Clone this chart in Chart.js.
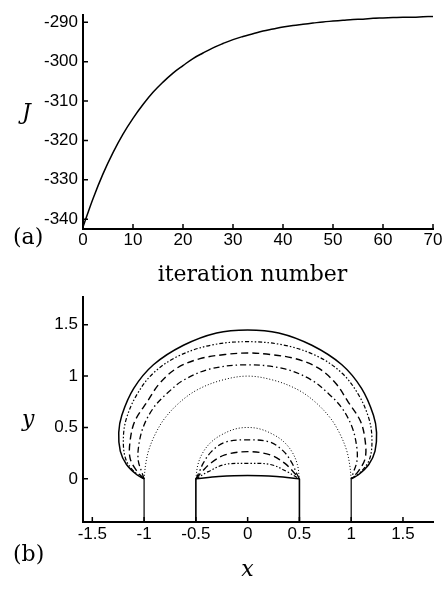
<!DOCTYPE html>
<html>
<head>
<meta charset="utf-8">
<script src="https://cdn.jsdelivr.net/npm/chart.js@4"></script>
<style>
  body { margin: 0; background: #fff; }
  #wrap { position: relative; width: 445px; height: 591px; overflow: hidden; }
  canvas { position: absolute; left: 0; }
  .lbl { position: absolute; font-family: 'DejaVu Serif', serif; font-size: 22px; line-height: 22px; color: #000; white-space: nowrap; }
  .it { font-style: italic; }
</style>
</head>
<body>
<div id="wrap">
  <canvas id="costChart" width="445" height="260" style="top:0"></canvas>
  <canvas id="shapeChart" width="445" height="270" style="top:280px"></canvas>
  <div class="lbl it" style="left:22px;top:101px">J</div>
  <div class="lbl" style="left:13px;top:226px">(a)</div>
  <div class="lbl" style="left:0;width:505px;text-align:center;top:263px">iteration number</div>
  <div class="lbl it" style="left:22px;top:408px">y</div>
  <div class="lbl" style="left:13px;top:543px">(b)</div>
  <div class="lbl it" style="left:0;width:495px;text-align:center;top:558px">x</div>
</div>
<script>
// (a) cost functional vs. iteration
const iterations = [0, 2, 4, 6, 8, 10, 12, 14, 16, 18, 20, 22, 24, 26, 28, 30, 32, 34,
  36, 38, 40, 42, 44, 46, 48, 50, 52, 54, 56, 58, 60, 62, 64, 66, 68, 70];
const costJ = [-342.0, -334.8, -328.5, -323.1, -318.4, -314.4, -310.9, -307.8, -305.2,
  -302.9, -301.0, -299.2, -297.8, -296.5, -295.4, -294.4, -293.6, -292.9, -292.2,
  -291.7, -291.2, -290.8, -290.5, -290.2, -289.9, -289.7, -289.5, -289.3, -289.2,
  -289.0, -288.9, -288.8, -288.7, -288.7, -288.6, -288.5];
const iterTicks = [0, 10, 20, 30, 40, 50, 60, 70];
const costTicks = [-340, -330, -320, -310, -300, -290];

// (b) free surface shapes, outer and inner bubbles: initial, iterations 1-3, final
const outerInitial = [[-1, 0], [-0.985, 0.14], [-0.955, 0.28], [-0.89, 0.44], [-0.80, 0.59],
  [-0.65, 0.75], [-0.48, 0.87], [-0.25, 0.96], [0, 1.0], [0.25, 0.96], [0.48, 0.87],
  [0.65, 0.75], [0.80, 0.59], [0.89, 0.44], [0.955, 0.28], [0.985, 0.14], [1, 0]];
const outerIter1 = [[-1, 0], [-1.02, 0.06], [-1.055, 0.17], [-1.055, 0.30], [-1.01, 0.50],
  [-0.91, 0.69], [-0.78, 0.83], [-0.62, 0.96], [-0.36, 1.07], [0, 1.11], [0.36, 1.07],
  [0.62, 0.96], [0.78, 0.83], [0.91, 0.69], [1.01, 0.50], [1.055, 0.30], [1.055, 0.17],
  [1.02, 0.06], [1, 0]];
const outerIter2 = [[-1, 0], [-1.07, 0.075], [-1.135, 0.20], [-1.135, 0.37], [-1.09, 0.56],
  [-0.97, 0.75], [-0.85, 0.93], [-0.68, 1.08], [-0.46, 1.17], [-0.22, 1.21], [0, 1.225],
  [0.22, 1.21], [0.46, 1.17], [0.68, 1.08], [0.85, 0.93], [0.97, 0.75], [1.09, 0.56],
  [1.135, 0.37], [1.135, 0.20], [1.07, 0.075], [1, 0]];
const outerIter3 = [[-1, 0], [-1.10, 0.075], [-1.18, 0.20], [-1.20, 0.40], [-1.17, 0.59],
  [-1.07, 0.82], [-0.91, 1.03], [-0.68, 1.19], [-0.36, 1.30], [0, 1.335], [0.36, 1.30],
  [0.68, 1.19], [0.91, 1.03], [1.07, 0.82], [1.17, 0.59], [1.20, 0.40], [1.18, 0.20],
  [1.10, 0.075], [1, 0]];
const outerFinal = [[-1, 0], [-1.07, 0.04], [-1.17, 0.14], [-1.23, 0.27], [-1.245, 0.45],
  [-1.215, 0.62], [-1.10, 0.88], [-0.91, 1.11], [-0.62, 1.30], [-0.30, 1.42], [0, 1.45],
  [0.30, 1.42], [0.62, 1.30], [0.91, 1.11], [1.10, 0.88], [1.215, 0.62], [1.245, 0.45],
  [1.23, 0.27], [1.17, 0.14], [1.07, 0.04], [1, 0]];
const innerInitial = [[-0.5, 0], [-0.48, 0.14], [-0.43, 0.26], [-0.35, 0.36], [-0.25, 0.43],
  [-0.12, 0.485], [0, 0.5], [0.12, 0.485], [0.25, 0.43], [0.35, 0.36], [0.43, 0.26],
  [0.48, 0.14], [0.5, 0]];
const innerIter1 = [[-0.5, 0], [-0.47, 0.06], [-0.43, 0.15], [-0.35, 0.265], [-0.22, 0.356],
  [0, 0.38], [0.22, 0.356], [0.35, 0.265], [0.43, 0.15], [0.47, 0.06], [0.5, 0]];
const innerIter2 = [[-0.5, 0], [-0.44, 0.07], [-0.36, 0.15], [-0.22, 0.233], [0, 0.265],
  [0.22, 0.233], [0.36, 0.15], [0.44, 0.07], [0.5, 0]];
const innerIter3 = [[-0.5, 0], [-0.38, 0.07], [-0.22, 0.14], [0, 0.15], [0.22, 0.14],
  [0.38, 0.07], [0.5, 0]];
const innerFinal = [[-0.5, 0], [-0.28, 0.022], [0, 0.032], [0.28, 0.022], [0.5, 0]];
const wallX = [-1, -0.5, 0.5, 1];
const xTicksB = [-1.5, -1, -0.5, 0, 0.5, 1, 1.5];
const yTicksB = [0, 0.5, 1, 1.5];
const xRangeB = [-1.59, 1.79];
const yRangeB = [-0.42, 1.77];

Chart.defaults.font.family = "'Liberation Sans', Arial, sans-serif";
Chart.defaults.font.size = 17;
Chart.defaults.color = '#000';

// short tick marks pointing into the plot
const inwardTicks = {
  id: 'inwardTicks',
  afterDraw(chart) {
    const { ctx, chartArea: a, scales } = chart;
    ctx.save();
    ctx.strokeStyle = '#000';
    ctx.lineWidth = 1.5;
    ctx.beginPath();
    scales.x.ticks.forEach(t => {
      const p = scales.x.getPixelForValue(t.value);
      ctx.moveTo(p, a.bottom); ctx.lineTo(p, a.bottom - 5);
    });
    scales.y.ticks.forEach(t => {
      const p = scales.y.getPixelForValue(t.value);
      ctx.moveTo(a.left, p); ctx.lineTo(a.left + 5, p);
    });
    ctx.stroke();
    ctx.restore();
  }
};

function axis(min, max, ticks, isY, size, pad) {
  return {
    type: 'linear', min, max,
    grid: { display: false, drawTicks: false },
    border: { display: true, color: '#000', width: 2 },
    ticks: { padding: pad, autoSkip: false, maxRotation: 0, callback: v => String(v) },
    afterBuildTicks: s => { s.ticks = ticks.map(v => ({ value: v })); },
    afterFit: s => { if (isY) s.width = size; else s.height = size; }
  };
}

const toXY = pts => pts.map(([x, y]) => ({ x, y }));

new Chart(document.getElementById('costChart'), {
  type: 'scatter',
  data: {
    datasets: [{
      data: iterations.map((t, i) => ({ x: t, y: costJ[i] })),
      showLine: true, borderColor: '#000', borderWidth: 1.5,
      pointRadius: 0, tension: 0.4
    }]
  },
  options: {
    responsive: false, animation: false, devicePixelRatio: 1,
    layout: { padding: { top: 5, right: 12, left: 0, bottom: 0 } },
    plugins: { legend: { display: false }, tooltip: { enabled: false } },
    scales: {
      x: axis(0, 70, iterTicks, false, 31, 1),
      y: axis(-342.5, -288.2, costTicks, true, 83, 5)
    }
  },
  plugins: [inwardTicks]
});

function curve(pts, dash, width) {
  return {
    data: toXY(pts), showLine: true, borderColor: '#000', borderWidth: width,
    borderDash: dash, pointRadius: 0, tension: 0.35
  };
}

const dotted = [1, 2];
const dashDot = [6, 3, 1.5, 3];
const dashed = [7, 4];
const dashDotDot = [4, 2, 1.5, 2, 1.5, 2];

const walls = wallX.map(x => ({
  data: [{ x, y: 0 }, { x, y: yRangeB[0] }], showLine: true,
  borderColor: '#000', borderWidth: Math.abs(x) === 0.5 ? 1.6 : 1.2, pointRadius: 0
}));

new Chart(document.getElementById('shapeChart'), {
  type: 'scatter',
  data: {
    datasets: [
      curve(outerInitial, dotted, 1), curve(outerIter1, dashDot, 1.3),
      curve(outerIter2, dashed, 1.4), curve(outerIter3, dashDotDot, 1.2),
      curve(outerFinal, [], 1.5),
      curve(innerInitial, dotted, 1), curve(innerIter1, dashDot, 1.3),
      curve(innerIter2, dashed, 1.4), curve(innerIter3, dashDotDot, 1.2),
      curve(innerFinal, [], 1.5),
      ...walls
    ]
  },
  options: {
    responsive: false, animation: false, devicePixelRatio: 1,
    layout: { padding: { top: 17, right: 12, left: 0, bottom: 0 } },
    plugins: { legend: { display: false }, tooltip: { enabled: false } },
    scales: {
      x: axis(xRangeB[0], xRangeB[1], xTicksB, false, 28, 2),
      y: axis(yRangeB[0], yRangeB[1], yTicksB, true, 83, 5)
    }
  },
  plugins: [inwardTicks]
});
</script>
</body>
</html>
